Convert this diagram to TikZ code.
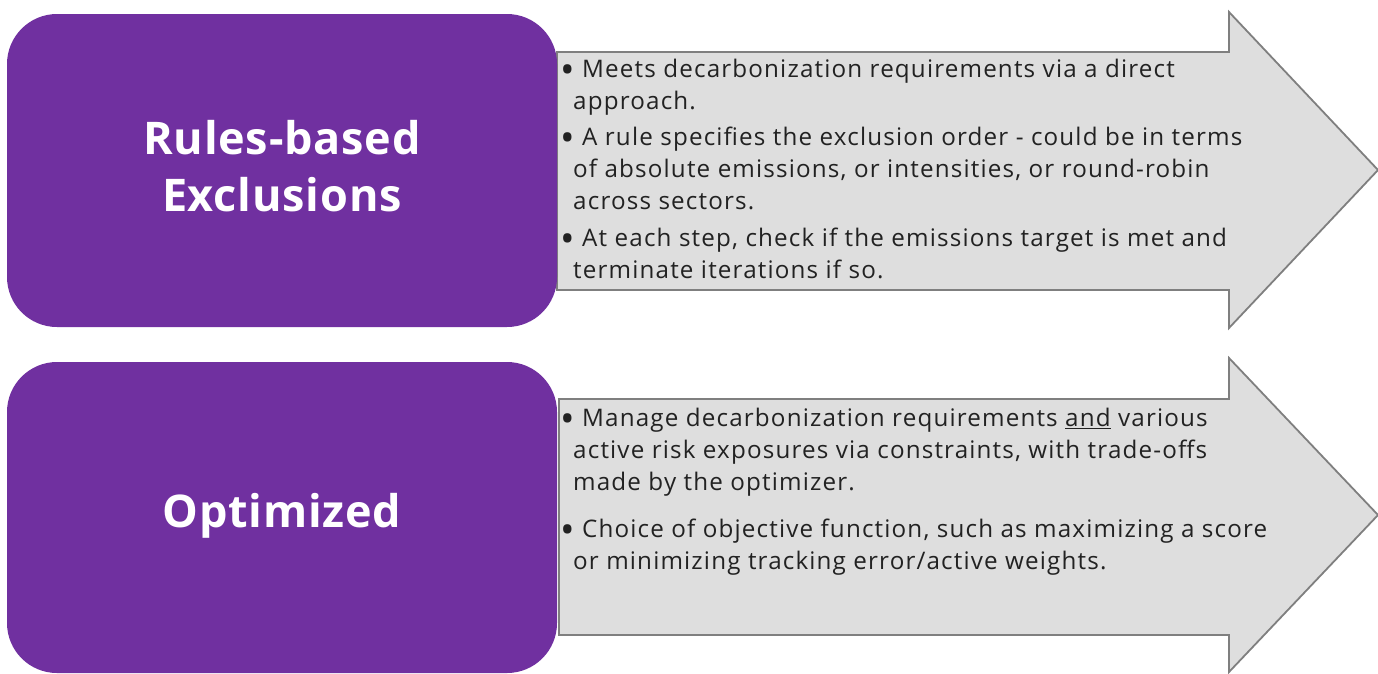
\documentclass[tikz,border=0pt]{standalone}
\usepackage{fontspec}
\setmainfont{Open Sans}[LetterSpace=4.8, BoldFeatures={LetterSpace=1.8}]
\definecolor{headpurple}{HTML}{7030A0}
\definecolor{arrowfill}{HTML}{DEDEDE}
\definecolor{arrowedge}{HTML}{7F7F7F}
\definecolor{bodyink}{HTML}{222222}
% a rounder, heavier bullet than the font's own, centred on the x-height
\newcommand\bul{\raisebox{-0.25em}{\scalebox{1.6}{\textbullet}}}
\begin{document}
\begin{tikzpicture}[x=1pt,y=-1pt,
  headbox/.style={fill=headpurple, draw=none, rounded corners=50pt,
    minimum width=550pt, inner sep=0pt},
  headtext/.style={text=white, align=center, inner sep=0pt,
    font=\bfseries\fontsize{45}{57}\selectfont},
  arrowshape/.style={fill=arrowfill, draw=arrowedge, line width=1.8pt, line join=miter},
  bodytext/.style={anchor=north west, inner sep=0pt, align=left, text=bodyink,
    font=\fontsize{24.2}{32}\selectfont}]
\useasboundingbox (0,0) rectangle (1378,673);

% upper block arrow
\coordinate (a1) at (557,52);
\draw[arrowshape] (a1) -- (1229,52) -- (1229,12) -- (1378,170) -- (1229,328)
  -- (1229,290) -- (557,290) -- cycle;
% lower block arrow
\coordinate (a2) at (559,399);
\draw[arrowshape] (a2) -- (1229,399) -- (1229,358) -- (1378,515) -- (1229,672)
  -- (1229,635) -- (559,635) -- cycle;

% purple headings
\node[headbox, minimum height=313pt] (rules) at (282,170.5) {};
\node[headtext] (rulestitle) at ([yshift=4pt]rules.center) {Rules-based\\Exclusions};
\node[headbox, minimum height=311pt] (optim) at (282,517.5) {};
\node[headtext] (optimtitle) at ([yshift=2pt]optim.center) {Optimized};

% bullet texts
\node[bodytext] (rulestext) at (560,59) {%
\bul{} Meets decarbonization requirements via a direct\\
\hspace*{13pt}approach.\\[4pt]
\bul{} A rule specifies the exclusion order - could be in terms\\
\hspace*{13pt}of absolute emissions, or intensities, or round-robin\\
\hspace*{13pt}across sectors.\\[5pt]
\bul{} At each step, check if the emissions target is met and\\
\hspace*{13pt}terminate iterations if so.};

\node[bodytext] (optimtext) at (560,408) {%
\bul{} Manage decarbonization requirements \underline{and} various\\
\hspace*{13pt}active risk exposures via constraints, with trade-offs\\
\hspace*{13pt}made by the optimizer.\\[15pt]
\bul{} Choice of objective function, such as maximizing a score\\
\hspace*{13pt}or minimizing tracking error/active weights.};
\end{tikzpicture}
\end{document}
